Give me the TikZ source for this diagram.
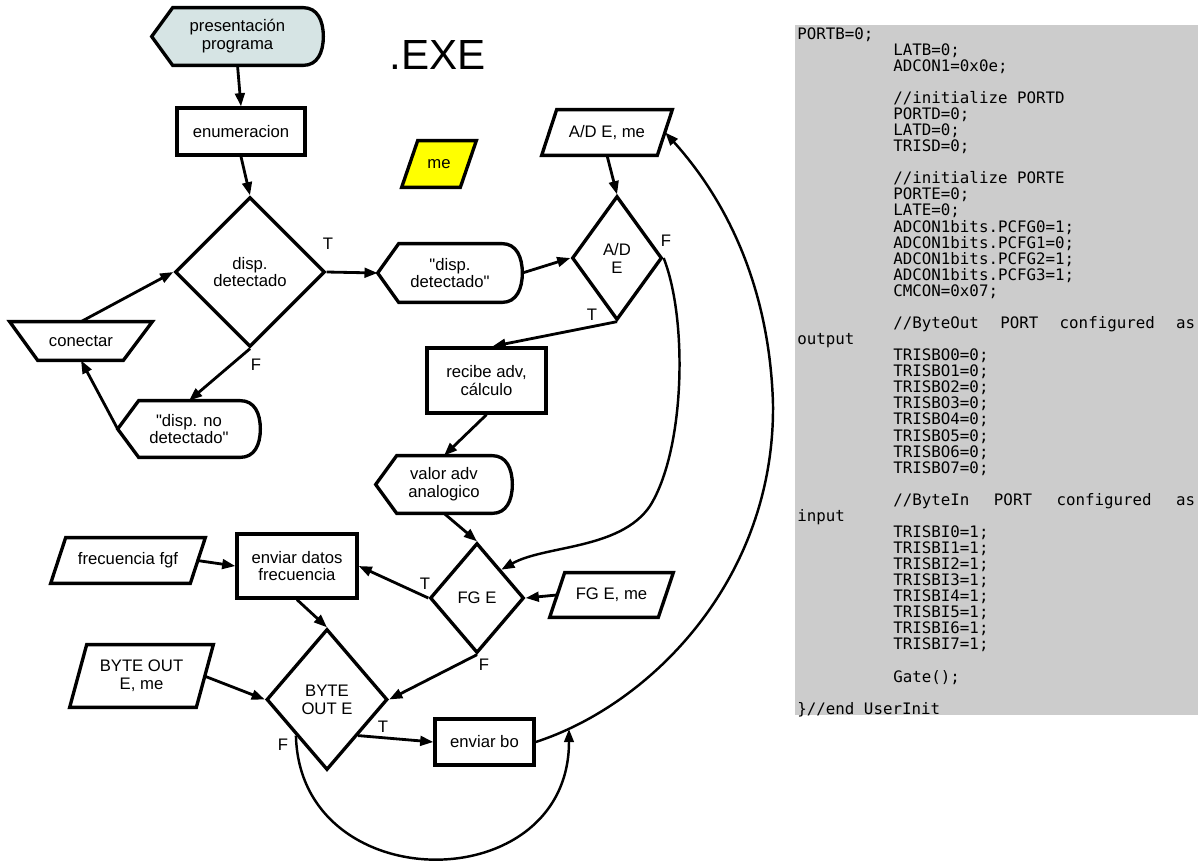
\documentclass[tikz,border=0pt]{standalone}
\usepackage{fontspec}
\setmainfont{Liberation Sans}[Ligatures=TeXOff]
\newfontfamily\codefont{DejaVu Sans Mono}
\usetikzlibrary{shapes.geometric,arrows.meta,calc,backgrounds}
\definecolor{presfill}{RGB}{214,228,228}
\definecolor{codegray}{RGB}{204,204,204}
\definecolor{meyellow}{RGB}{255,255,0}
\newcommand{\ind}{\hspace*{1.92cm}}
\begin{document}
\begin{tikzpicture}[x=0.02cm,y=-0.02cm,
  every node/.style={font=\fontsize{9.5}{10.2}\selectfont,align=center,inner sep=0pt},
  shapeline/.style={line width=1.9pt},
  box/.style={draw,line width=1.9pt},
  dec/.style={diamond,draw,line width=1.9pt},
  conn/.style={line width=1.6pt,-{Triangle[length=7.5pt,width=5.5pt]}},
  loopline/.style={line width=1.4pt,-{Triangle[length=7.5pt,width=5.5pt]}}]
\useasboundingbox (0,0) rectangle (1198,860);
% flowchart
\node[minimum width=3.42cm,minimum height=1.14cm] (pres) at (237.5,36.5) {presentación\\programa};
\node[box,minimum width=2.56cm,minimum height=0.94cm] (enum) at (241,131.5) {enumeracion};
\node[font=\fontsize{24}{28}\selectfont] (exe) at (438,55) {.EXE};
\node[minimum width=1.48cm,minimum height=0.92cm] (meb) at (439,164) {me};
\node[dec,minimum width=3cm,minimum height=3cm] (dd) at (250,272) {disp.\\detectado};
\node[minimum width=2.84cm,minimum height=0.76cm] (con) at (81,341) {conectar};
\node[minimum width=2.84cm,minimum height=1.12cm] (nodet) at (189,429) {"disp. no\\detectado"};
\node[minimum width=2.88cm,minimum height=1.16cm] (disp2) at (450,273) {"disp.\\detectado"};
\node[minimum width=2.6cm,minimum height=0.9cm] (ade) at (607,132.5) {A/D E, me};
\node[dec,minimum width=1.8cm,minimum height=2.48cm] (ad) at (617,258) {A/D\\E};
\node[box,minimum width=2.38cm,minimum height=1.3cm] (recibe) at (486.5,380.5) {recibe adv,\\cálculo};
\node[minimum width=2.72cm,minimum height=1.14cm] (valor) at (444,484.5) {valor adv\\analogico};
\node[dec,minimum width=1.88cm,minimum height=2.2cm] (fg) at (477,598) {FG E};
\node[minimum width=2.46cm,minimum height=0.88cm] (fgem) at (611.5,595) {FG E, me};
\node[box,minimum width=2.4cm,minimum height=1.28cm] (envd) at (297,566) {enviar datos\\frecuencia};
\node[minimum width=3.08cm,minimum height=0.9cm] (fgf) at (128,560.5) {frecuencia fgf};
\node[dec,minimum width=2.42cm,minimum height=2.82cm] (bo) at (327,699.5) {BYTE\\OUT E};
\node[minimum width=2.86cm,minimum height=1.24cm] (boem) at (141.5,676) {BYTE OUT\\E, me};
\node[box,minimum width=1.98cm,minimum height=0.92cm] (envbo) at (484.5,742) {enviar bo};
% T/F labels
\node (tdd) at (328,244) {T};
\node (fdd) at (256,365) {F};
\node (tad) at (592,315) {T};
\node (fad) at (666,241) {F};
\node (tfg) at (425,584) {T};
\node (ffg) at (484,665) {F};
\node (tbo) at (383,727) {T};
\node (fbo) at (283,745) {F};
% outlines
\begin{scope}[on background layer]
\fill[codegray] (795,25) rectangle (1198,715);
\foreach \n/\c in {pres/presfill,disp2/white,nodet/white,valor/white}
  \draw[shapeline,fill=\c] (\n.west) -- ($(\n.north west)+(21,0)$) -- ($(\n.north east)-(20,0)$)
    .. controls ($(\n.north east)-(6,0)$) and ($(\n.east)+(0,-16)$) .. (\n.east)
    .. controls ($(\n.east)+(0,16)$) and ($(\n.south east)-(6,0)$) .. ($(\n.south east)-(20,0)$)
    -- ($(\n.south west)+(21,0)$) -- cycle;
\foreach \n/\s/\c in {ade/15/white,fgem/15/white,fgf/15/white,boem/17/white,meb/16/meyellow}
  \draw[shapeline,fill=\c] ($(\n.north west)+(\s,0)$) -- (\n.north east) -- ($(\n.south east)-(\s,0)$) -- (\n.south west) -- cycle;
\draw[shapeline] (con.north west) -- (con.north east) -- ($(con.south east)-(29,0)$) -- ($(con.south west)+(28,0)$) -- cycle;
\end{scope}
% code listing
\node[font=\codefont\fontsize{9}{9.15}\selectfont,align=left,anchor=north west] (code) at (797,27) {PORTB=0;\\
\ind LATB=0;\\
\ind ADCON1=0x0e;\\
\mbox{}\\
\ind //initialize PORTD\\
\ind PORTD=0;\\
\ind LATD=0;\\
\ind TRISD=0;\\
\mbox{}\\
\ind //initialize PORTE\\
\ind PORTE=0;\\
\ind LATE=0;\\
\ind ADCON1bits.PCFG0=1;\\
\ind ADCON1bits.PCFG1=0;\\
\ind ADCON1bits.PCFG2=1;\\
\ind ADCON1bits.PCFG3=1;\\
\ind CMCON=0x07;\\
\mbox{}\\
\ind\makebox[6.04cm][s]{//ByteOut\hfill PORT\hfill configured\hfill as}\\
output\\
\ind TRISBO0=0;\\
\ind TRISBO1=0;\\
\ind TRISBO2=0;\\
\ind TRISBO3=0;\\
\ind TRISBO4=0;\\
\ind TRISBO5=0;\\
\ind TRISBO6=0;\\
\ind TRISBO7=0;\\
\mbox{}\\
\ind\makebox[6.04cm][s]{//ByteIn\hfill PORT\hfill configured\hfill as}\\
input\\
\ind TRISBI0=1;\\
\ind TRISBI1=1;\\
\ind TRISBI2=1;\\
\ind TRISBI3=1;\\
\ind TRISBI4=1;\\
\ind TRISBI5=1;\\
\ind TRISBI6=1;\\
\ind TRISBI7=1;\\
\mbox{}\\
\ind Gate();\\
\mbox{}\\
\}//end UserInit};
% connectors
\draw[conn] (pres.south) -- (enum.north);
\draw[conn] (enum.south) -- (dd.north);
\draw[conn] (con.north) -- (dd.west);
\draw[conn] (dd.south) -- (nodet.north);
\draw[conn] (nodet.west) -- (con.south);
\draw[conn] (dd.east) -- (disp2.west);
\draw[conn] (disp2.east) -- (ad.west);
\draw[conn] (ade.south) -- (ad.north);
\draw[conn] (ad.south) -- ($(recibe.north)+(6,0)$);
\draw[conn] (recibe.south) -- (valor.north);
\draw[conn] (valor.south) -- (fg.north);
\draw[conn] (fg.west) -- (envd.east);
\draw[conn] ($(fgf.east)-(8,0)$) -- (envd.west);
\draw[conn] ($(fgem.west)+(7,0)$) -- (fg.east);
\draw[conn] (envd.south) -- (bo.north);
\draw[conn] (fg.south) -- (bo.east);
\draw[conn] ($(boem.east)-(9,0)$) -- (bo.west);
\draw[conn] (bo.south east) -- (envbo.west);
\draw[loopline] (ad.east) .. controls (688,320) and (685,450) .. (650,506)
  .. controls (620,550) and (545,545) .. (fg.north east);
\draw[loopline] (envbo.east) .. controls (650,705) and (775,580) .. (773,404)
  .. controls (770,300) and (735,210) .. ($(ade.east)-(7,0)$);
\coordinate (loopend) at (569,729);
\draw[loopline] (bo.south west) .. controls (300,900) and (569,900) .. (loopend);
\end{tikzpicture}
\end{document}
